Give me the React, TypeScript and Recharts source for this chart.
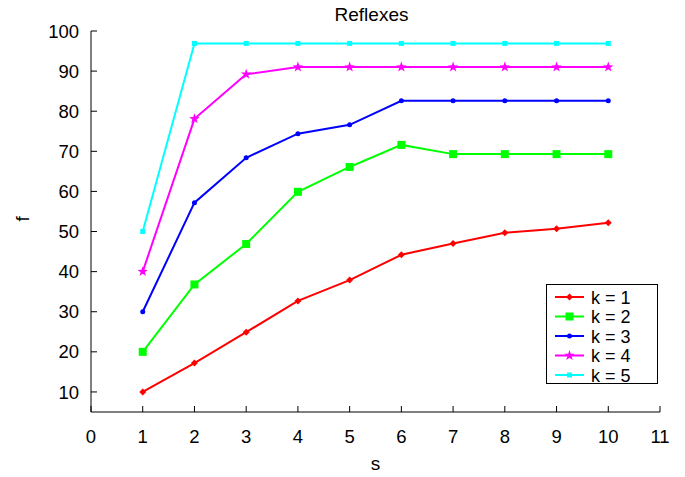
import React from 'react';
import { LineChart, Line, XAxis, YAxis, Legend } from 'recharts';

const sValues = [1, 2, 3, 4, 5, 6, 7, 8, 9, 10];
const k1 = [10, 17.2, 24.9, 32.7, 37.9, 44.2, 47, 49.7, 50.7, 52.2];
const k2 = [20, 36.8, 46.9, 59.9, 66.1, 71.6, 69.3, 69.3, 69.3, 69.3];
const k3 = [30, 57.2, 68.4, 74.4, 76.6, 82.6, 82.6, 82.6, 82.6, 82.6];
const k4 = [40, 78.1, 89.2, 91, 91, 91, 91, 91, 91, 91];
const k5 = [50, 96.9, 96.9, 96.9, 96.9, 96.9, 96.9, 96.9, 96.9, 96.9];

const xTicks = [0, 1, 2, 3, 4, 5, 6, 7, 8, 9, 10, 11];
const yTicks = [10, 20, 30, 40, 50, 60, 70, 80, 90, 100];

const FONT = 'Liberation Sans, Arial, sans-serif';

const data = sValues.map((s, i) => ({ s, k1: k1[i], k2: k2[i], k3: k3[i], k4: k4[i], k5: k5[i] }));

type Shape = 'diamond' | 'square' | 'circle' | 'star' | 'small';

const series: { key: string; name: string; color: string; shape: Shape }[] = [
  { key: 'k1', name: 'k = 1', color: '#ff0000', shape: 'diamond' },
  { key: 'k2', name: 'k = 2', color: '#00ff00', shape: 'square' },
  { key: 'k3', name: 'k = 3', color: '#0000ff', shape: 'circle' },
  { key: 'k4', name: 'k = 4', color: '#ff00ff', shape: 'star' },
  { key: 'k5', name: 'k = 5', color: '#00ffff', shape: 'small' },
];

function starPoints(cx: number, cy: number, r: number, ri: number) {
  const pts: string[] = [];
  for (let i = 0; i < 10; i++) {
    const a = -Math.PI / 2 + (i * Math.PI) / 5;
    const rr = i % 2 === 0 ? r : ri;
    pts.push(`${cx + rr * Math.cos(a)},${cy + rr * Math.sin(a)}`);
  }
  return pts.join(' ');
}

function Marker({ cx, cy, color, shape }: { cx: number; cy: number; color: string; shape: Shape }) {
  if (cx == null || cy == null) return null;
  switch (shape) {
    case 'diamond':
      return <polygon points={`${cx},${cy - 3.5} ${cx + 3.5},${cy} ${cx},${cy + 3.5} ${cx - 3.5},${cy}`} fill={color} />;
    case 'square':
      return <rect x={cx - 4} y={cy - 4} width={8} height={8} fill={color} />;
    case 'circle':
      return <circle cx={cx} cy={cy} r={2.5} fill={color} />;
    case 'star':
      return <polygon points={starPoints(cx, cy, 5.5, 2.2)} fill={color} />;
    default:
      return <rect x={cx - 2.5} y={cy - 2.5} width={5} height={5} fill={color} />;
  }
}

// legend drawn as a framed box, like the original plot
function LegendBox() {
  return (
    <svg width={112} height={106} style={{ overflow: 'visible' }}>
      <rect x={0.5} y={0.5} width={111} height={99} fill="#fff" stroke="#000" strokeWidth={1} />
      {series.map((s, i) => {
        const y = 13 + i * 19.5;
        return (
          <g key={s.key}>
            <line x1={9} x2={38} y1={y} y2={y} stroke={s.color} strokeWidth={2} />
            <Marker cx={23.5} cy={y} color={s.color} shape={s.shape} />
            <text x={45} y={y + 6.5} fontSize={18} fontFamily={FONT} fill="#000">
              {s.name}
            </text>
          </g>
        );
      })}
    </svg>
  );
}

export default function App() {
  return (
    <div style={{ position: 'absolute', left: 0, top: 0, width: 685, height: 477, background: '#fff' }}>
      <div
        style={{
          position: 'absolute',
          left: 0,
          width: 685,
          top: 4,
          textAlign: 'center',
          paddingLeft: 58,
          boxSizing: 'border-box',
          fontFamily: FONT,
          fontSize: 19,
        }}
      >
        Reflexes
      </div>
      <LineChart width={685} height={477} data={data} margin={{ top: 31, right: 25, left: 31, bottom: 25 }}>
        <XAxis
          dataKey="s"
          type="number"
          domain={[0, 11]}
          ticks={xTicks}
          height={40}
          stroke="#000"
          tickSize={-6}
          tickMargin={24}
          tick={{ fill: '#000', fontSize: 18.5, fontFamily: FONT }}
          label={{ value: 's', position: 'insideBottom', offset: -18, fill: '#000', fontSize: 19, fontFamily: FONT }}
        />
        <YAxis
          type="number"
          domain={[5, 100]}
          ticks={yTicks}
          width={60}
          stroke="#000"
          tickSize={-6}
          tickMargin={18}
          tick={{ fill: '#000', fontSize: 18.5, fontFamily: FONT }}
          label={{ value: 'f', angle: -90, position: 'insideLeft', offset: -9, fill: '#000', fontSize: 19, fontFamily: FONT }}
        />
        <Legend
          layout="vertical"
          align="center"
          verticalAlign="middle"
          content={() => <LegendBox />}
          wrapperStyle={{ left: 546, top: 284, width: 112, height: 106 }}
        />
        {series.map((s) => (
          <Line
            key={s.key}
            dataKey={s.key}
            name={s.name}
            stroke={s.color}
            strokeWidth={2}
            isAnimationActive={false}
            dot={(p: any) => <Marker key={`${s.key}-${p.index}`} cx={p.cx} cy={p.cy} color={s.color} shape={s.shape} />}
            activeDot={false}
          />
        ))}
      </LineChart>
    </div>
  );
}
